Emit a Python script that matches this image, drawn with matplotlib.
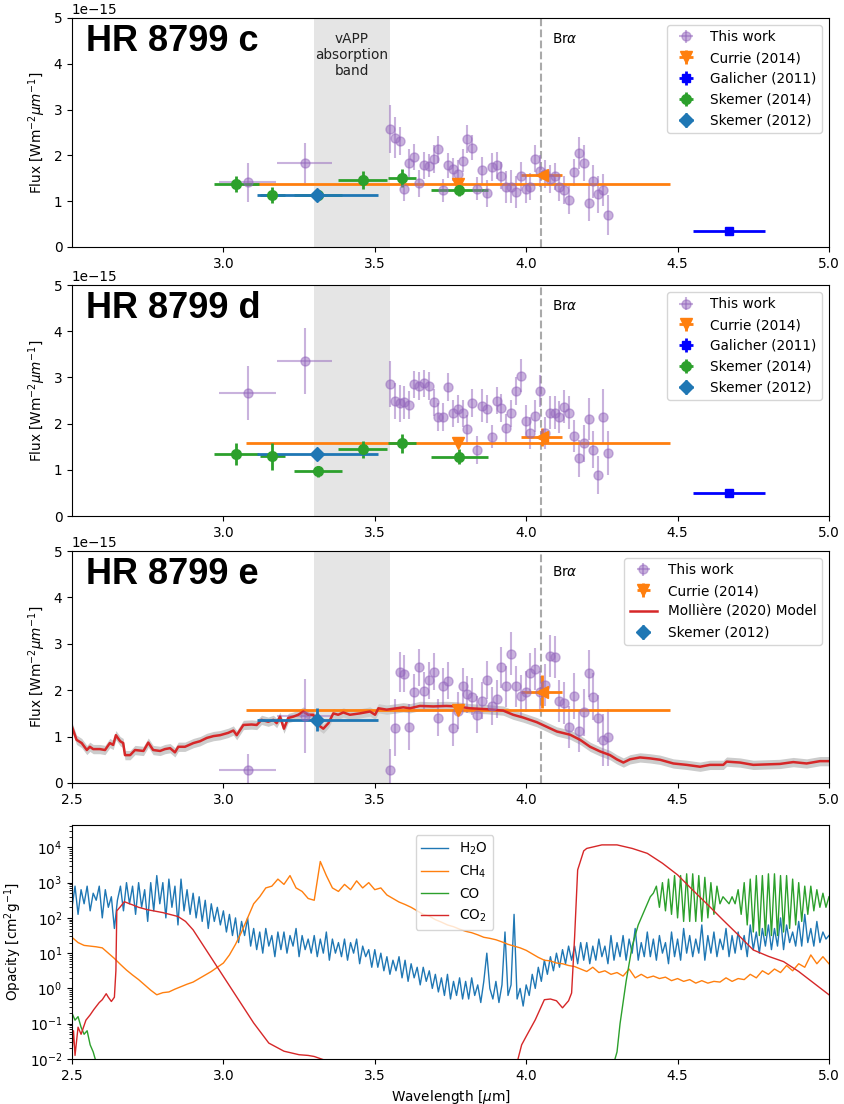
import numpy as np
import matplotlib
matplotlib.use("Agg")
import matplotlib.pyplot as plt

plt.rcParams['font.family'] = ['DejaVu Sans']
plt.rcParams['font.size'] = 9.8

# ---------------- data ----------------
spec_wl = [3.550, 3.566, 3.582, 3.598, 3.614, 3.630, 3.646, 3.662, 3.678, 3.694,
           3.710, 3.726, 3.742, 3.758, 3.774, 3.790, 3.806, 3.822, 3.838, 3.854,
           3.870, 3.886, 3.902, 3.918, 3.934, 3.950, 3.966, 3.982, 3.998, 4.014,
           4.030, 4.046, 4.062, 4.078, 4.094, 4.110, 4.126, 4.142, 4.158, 4.174,
           4.190, 4.206, 4.222, 4.238, 4.254, 4.270]

c_flux = [2.58, 2.39, 2.31, 1.26, 1.83, 1.96, 1.39, 1.78, 1.77, 1.92,
          2.13, 1.24, 1.78, 1.70, 1.59, 1.88, 2.36, 2.17, 1.27, 1.67,
          1.17, 1.75, 1.78, 1.56, 1.30, 1.32, 1.19, 1.54, 1.26, 1.32,
          1.93, 1.66, 1.59, 1.48, 1.54, 1.30, 1.24, 1.03, 1.63, 2.05,
          1.83, 0.97, 1.43, 1.15, 1.24, 0.70]
c_err = [0.53, 0.44, 0.30, 0.25, 0.30, 0.28, 0.30, 0.30, 0.25, 0.30,
         0.30, 0.25, 0.28, 0.25, 0.30, 0.25, 0.30, 0.28, 0.25, 0.30,
         0.30, 0.30, 0.30, 0.30, 0.35, 0.35, 0.35, 0.32, 0.30, 0.30,
         0.30, 0.35, 0.30, 0.30, 0.30, 0.30, 0.30, 0.30, 0.30, 0.35,
         0.40, 0.40, 0.35, 0.40, 0.35, 0.43]

d_flux = [2.85, 2.49, 2.44, 2.46, 2.40, 2.85, 2.82, 2.87, 2.82, 2.46,
          2.15, 2.15, 2.79, 2.22, 2.32, 2.22, 1.88, 2.44, 1.43, 2.39,
          2.31, 1.72, 2.50, 2.34, 1.90, 2.22, 2.71, 3.04, 2.06, 1.80,
          2.17, 2.71, 1.79, 2.24, 2.24, 2.15, 2.37, 2.24, 1.73, 1.25,
          1.57, 2.10, 1.43, 0.89, 2.15, 1.36]
d_err = [0.50, 0.40, 0.40, 0.35, 0.30, 0.30, 0.30, 0.30, 0.30, 0.30,
         0.30, 0.30, 0.30, 0.30, 0.30, 0.30, 0.30, 0.30, 0.30, 0.35,
         0.30, 0.25, 0.30, 0.30, 0.30, 0.30, 0.30, 0.35, 0.35, 0.35,
         0.35, 0.35, 0.35, 0.35, 0.35, 0.35, 0.35, 0.35, 0.35, 0.40,
         0.40, 0.45, 0.40, 0.41, 0.60, 0.47]

e_flux = [0.28, 1.19, 2.39, 2.35, 1.21, 1.95, 2.49, 1.99, 2.21, 2.40,
          1.41, 2.08, 2.20, 1.19, 1.56, 2.08, 1.91, 1.86, 1.47, 1.77,
          2.22, 1.66, 1.81, 2.49, 2.08, 2.79, 2.08, 1.88, 1.97, 2.36,
          2.46, 1.97, 2.11, 2.74, 2.72, 1.77, 1.72, 1.21, 1.88, 1.12,
          1.52, 2.36, 1.86, 1.39, 0.93, 0.98]
e_err = [0.45, 0.61, 0.43, 0.40, 0.50, 0.40, 0.40, 0.40, 0.40, 0.40,
         0.40, 0.40, 0.40, 0.40, 0.40, 0.40, 0.40, 0.40, 0.40, 0.40,
         0.40, 0.40, 0.40, 0.45, 0.45, 0.46, 0.45, 0.45, 0.45, 0.45,
         0.45, 0.45, 0.45, 0.45, 0.45, 0.45, 0.45, 0.45, 0.50, 0.45,
         0.50, 0.50, 0.50, 0.50, 0.56, 0.61]

# photometric "This work" points
phot_wl = [3.081, 3.268]
phot_xerr = [0.094, 0.091]
c_phot = [1.41, 1.83]
c_phot_err = [0.42, 0.44]
d_phot = [2.66, 3.35]
d_phot_err = [0.59, 0.71]
e_phot = [0.28, 1.45]
e_phot_err = [0.35, 0.80]

# Currie (2014)
currie_wl = [3.776, 4.051]
currie_xerr = [0.70, 0.067]
c_currie = [1.37, 1.57]
c_currie_err = [0.0, 0.08]
d_currie = [1.57, 1.71]
d_currie_err = [0.0, 0.20]
e_currie = [1.58, 1.97]
e_currie_err = [0.0, 0.35]

# Galicher (2011)
galicher_wl = [4.67]
galicher_xerr = [0.12]
c_galicher = [0.35]
d_galicher = [0.49]
galicher_err = [0.04]

# Skemer (2014)
sk14_wl = [3.043, 3.162, 3.312, 3.460, 3.590, 3.779]
sk14_xerr = [0.075, 0.042, 0.080, 0.080, 0.045, 0.094]
c_sk14 = [1.37, 1.14, 1.13, 1.46, 1.51, 1.245]
c_sk14_err = [0.17, 0.18, 0.10, 0.19, 0.20, 0.14]
d_sk14 = [1.35, 1.29, 0.97, 1.44, 1.57, 1.28]
d_sk14_err = [0.24, 0.29, 0.12, 0.18, 0.20, 0.16]

# Skemer (2012)
sk12_wl = [3.310]
sk12_xerr = [0.20]
c_sk12 = [1.135]
d_sk12 = [1.35]
e_sk12 = [1.36]
sk12_err = [0.04]
e_sk12_err = [0.25]

# Molliere (2020) model for HR 8799 e
model_wl = [2.500, 2.515, 2.532, 2.549, 2.559, 2.570, 2.592, 2.609, 2.625, 2.636,
            2.645, 2.659, 2.669, 2.675, 2.692, 2.708, 2.736, 2.752, 2.768, 2.791,
            2.807, 2.824, 2.840, 2.851, 2.873, 2.901, 2.923, 2.945, 2.967, 2.989,
            3.016, 3.033, 3.044, 3.066, 3.093, 3.110, 3.126, 3.148, 3.165, 3.176,
            3.187, 3.200, 3.214, 3.231, 3.247, 3.264, 3.280, 3.297, 3.313, 3.330,
            3.347, 3.363, 3.379, 3.396, 3.418, 3.451, 3.484, 3.501, 3.512, 3.539,
            3.561, 3.594, 3.616, 3.649, 3.693, 3.737, 3.771, 3.814, 3.870, 3.924,
            3.957, 3.990, 4.035, 4.068, 4.101, 4.145, 4.178, 4.211, 4.244, 4.277,
            4.299, 4.321, 4.343, 4.376, 4.409, 4.442, 4.486, 4.530, 4.574, 4.607,
            4.651, 4.662, 4.706, 4.750, 4.794, 4.838, 4.882, 4.926, 4.970, 5.000]
model_flux = [1.21, 0.93, 0.86, 0.71, 0.78, 0.73, 0.73, 0.71, 0.86, 0.82,
              1.03, 0.90, 0.86, 0.60, 0.60, 0.71, 0.69, 0.87, 0.71, 0.69,
              0.73, 0.75, 0.66, 0.78, 0.78, 0.86, 0.90, 0.97, 1.01, 1.03,
              1.08, 1.13, 1.03, 1.25, 1.26, 1.25, 1.36, 1.32, 1.36, 1.29,
              1.43, 1.17, 1.40, 1.43, 1.47, 1.54, 1.47, 1.47, 1.25, 1.17,
              1.29, 1.50, 1.47, 1.52, 1.47, 1.50, 1.54, 1.47, 1.61, 1.58,
              1.60, 1.63, 1.61, 1.66, 1.65, 1.66, 1.65, 1.61, 1.59, 1.56,
              1.47, 1.41, 1.31, 1.21, 1.11, 1.04, 0.93, 0.78, 0.68, 0.60,
              0.51, 0.44, 0.51, 0.55, 0.53, 0.50, 0.42, 0.39, 0.35, 0.39,
              0.39, 0.46, 0.44, 0.39, 0.40, 0.41, 0.45, 0.42, 0.47, 0.47]
model_unc = 0.10

# ---- opacities (log10 cm^2/g) ----
h2o_log = [2.3, 2.9, 2.1, 2.8, 2.4, 2.9, 2.2, 2.7, 2.5, 2.9,
           2.0, 2.8, 2.3, 2.6, 1.7, 2.5, 2.9, 2.2, 3.0, 2.4,
           2.9, 2.1, 3.0, 2.3, 2.8, 1.9, 3.0, 2.2, 3.2, 2.4,
           3.0, 2.0, 3.1, 2.3, 2.9, 1.8, 3.1, 2.2, 2.8, 2.1,
           2.7, 2.0, 2.6, 1.9, 2.5, 1.7, 2.4, 1.9, 2.3, 1.8,
           2.2, 1.6, 2.1, 1.5, 2.0, 1.3, 1.9, 1.5, 2.0, 1.2,
           1.7, 1.1, 1.6, 1.0, 1.7, 1.2, 1.5, 0.9, 1.6, 1.1,
           1.6, 1.0, 1.5, 1.2, 1.7, 0.9, 1.5, 1.1, 1.4, 1.0,
           1.5, 0.9, 1.4, 1.0, 1.6, 0.8, 1.4, 1.0, 1.3, 0.9,
           1.4, 0.8, 1.3, 1.0, 1.4, 0.7, 1.2, 0.9, 1.1, 0.6,
           1.1, 0.6, 1.0, 0.5, 0.9, 0.4, 0.8, 0.5, 0.9, 0.3,
           0.8, 0.2, 0.7, 0.3, 0.6, 0.1, 0.6, 0.2, 0.5, 0.0,
           0.4, -0.1, 0.3, -0.2, 0.4, -0.3, 0.2, -0.2, 0.3, -0.3,
           0.2, -0.3, 0.3, -0.2, 0.1, -0.4, 0.2, 1.0, 0.0, -0.3,
           0.2, -0.4, 0.1, 1.6, -0.2, 0.1, 2.1, -0.3, 0.0, -0.5,
           0.1, -0.2, 0.4, 0.0, 0.6, 0.2, 0.8, 0.4, 0.9, 0.5,
           1.0, 0.6, 1.1, 0.7, 1.2, 0.8, 1.2, 0.7, 1.3, 0.8,
           1.3, 0.7, 1.2, 0.8, 1.4, 0.9, 1.2, 0.7, 1.5, 0.8,
           1.3, 0.9, 1.5, 0.8, 1.4, 1.0, 1.7, 0.8, 1.3, 0.9,
           1.6, 0.9, 1.4, 0.8, 1.5, 1.0, 1.3, 0.7, 1.6, 0.9,
           1.4, 0.8, 1.7, 1.0, 1.5, 0.9, 1.4, 1.0, 1.8, 0.8,
           1.5, 1.0, 1.6, 0.9, 1.4, 1.1, 1.7, 0.9, 1.5, 1.0,
           1.6, 1.1, 1.5, 0.9, 1.8, 1.1, 1.6, 1.0, 1.7, 1.2,
           1.8, 1.1, 1.7, 1.2, 2.0, 1.1, 1.8, 1.3, 1.6, 1.2,
           1.9, 1.2, 2.1, 1.3, 1.7, 1.2, 1.9, 1.3, 1.6, 1.4,
           1.5]
h2o_wl = np.linspace(2.50, 5.00, len(h2o_log))

ch4_log = [1.45, 1.30, 1.22, 1.20, 1.18, 1.15, 1.00, 0.85, 0.68, 0.52,
           0.38, 0.25, 0.10, -0.05, -0.18, -0.12, -0.10, -0.02, 0.05, 0.12,
           0.18, 0.28, 0.38, 0.48, 0.60, 0.72, 0.95, 1.25, 1.60, 2.00,
           2.40, 2.60, 2.85, 2.90, 3.10, 2.95, 3.20, 2.85, 2.75, 2.55,
           2.50, 3.60, 3.20, 2.85, 2.75, 2.95, 2.80, 3.05, 2.85, 3.00,
           2.80, 2.85, 2.65, 2.55, 2.45, 2.38, 2.30, 2.20, 2.10, 2.05,
           1.95, 1.88, 1.80, 1.75, 1.68, 1.62, 1.58, 1.52, 1.45, 1.42,
           1.38, 1.32, 1.25, 1.20, 1.15, 1.08, 0.98, 0.88, 0.80, 0.78,
           0.72, 0.70, 0.65, 0.62, 0.55, 0.48, 0.60, 0.45, 0.50, 0.40,
           0.45, 0.35, 0.55, 0.30, 0.40, 0.30, 0.35, 0.28, 0.32, 0.22,
           0.28, 0.20, 0.25, 0.15, 0.22, 0.15, 0.20, 0.18, 0.30, 0.20,
           0.28, 0.25, 0.40, 0.30, 0.50, 0.40, 0.55, 0.45, 0.65, 0.50,
           0.70, 0.60, 0.95, 0.70, 0.90, 0.70]
ch4_wl = np.linspace(2.50, 5.00, len(ch4_log))

co_wl_a = [2.50, 2.51, 2.52, 2.53, 2.54, 2.55, 2.56, 2.57, 2.58]
co_log_a = [-0.7, -0.9, -0.8, -1.1, -1.3, -1.2, -1.6, -1.8, -2.1]
co_log_b = [-2.1, -1.8, -1.0, -0.4, 0.2, 0.7, 1.2, 1.5, 1.8, 2.0,
            2.2, 2.4, 2.6, 2.7, 2.9, 2.3, 3.0, 2.2, 3.1, 2.1,
            3.2, 2.0, 3.2, 1.9, 3.25, 1.9, 3.25, 1.9, 3.2, 1.9,
            3.15, 2.0, 3.0, 2.1, 2.9, 2.4, 2.6, 2.5, 2.4, 2.6,
            2.4, 2.8, 2.1, 3.0, 1.8, 3.1, 1.6, 3.2, 1.5, 3.2,
            1.5, 3.25, 1.5, 3.25, 1.5, 3.2, 1.6, 3.2, 1.7, 3.1,
            1.8, 3.0, 1.9, 2.9, 2.1, 2.9, 2.2, 2.8, 2.3, 2.7,
            2.3, 2.6]
co_wl_b = np.linspace(4.29, 5.00, len(co_log_b))

co2_wl = [2.500, 2.505, 2.510, 2.520, 2.530, 2.546, 2.560, 2.572, 2.590, 2.600,
          2.613, 2.620, 2.630, 2.640, 2.645, 2.648, 2.660, 2.673, 2.690, 2.700,
          2.720, 2.750, 2.800, 2.850, 2.875, 2.900, 2.950, 3.000, 3.050, 3.100,
          3.150, 3.200, 3.250, 3.280, 3.300, 3.330, 3.360, 3.400, 3.950, 3.970,
          3.985, 4.000, 4.030, 4.060, 4.080, 4.100, 4.120, 4.140, 4.150, 4.160,
          4.170, 4.190, 4.200, 4.250, 4.300, 4.350, 4.400, 4.450, 4.500, 4.550,
          4.600, 4.650, 4.700, 4.750, 4.800, 4.850, 4.900, 4.950, 5.000]
co2_log = [-1.8, -1.2, -1.9, -1.1, -1.3, -0.9, -0.75, -0.6, -0.4, -0.32,
           -0.15, -0.25, -0.37, -0.25, 0.5, 2.2, 2.32, 2.46, 2.40, 2.37,
           2.30, 2.23, 2.15, 2.04, 1.90, 1.66, 1.00, 0.34, -0.32, -0.98,
           -1.55, -1.78, -1.88, -1.90, -1.93, -2.02, -2.2, -2.5, -2.5, -2.1,
           -1.6, -1.36, -0.89, -0.32, -0.30, -0.35, -0.55, -0.35, -0.13, 1.47,
           3.36, 3.90, 3.97, 4.07, 4.07, 3.97, 3.83, 3.55, 3.22, 2.79,
           2.37, 1.94, 1.52, 1.09, 0.91, 0.76, 0.48, 0.15, -0.18]

xticks_top = [3.0, 3.5, 4.0, 4.5, 5.0]
xticks_all = [2.5, 3.0, 3.5, 4.0, 4.5, 5.0]

# ---------------- figure ----------------
fig = plt.figure(figsize=(8.44, 11.04), dpi=100)
L, W = 0.0853, 0.8969
ax1 = fig.add_axes([L, 0.7763, W, 0.2074])
ax2 = fig.add_axes([L, 0.5326, W, 0.2092])
ax3 = fig.add_axes([L, 0.2908, W, 0.2101])
ax4 = fig.add_axes([L, 0.0408, W, 0.2119])

S = 1e-15
PURPLE = 'tab:purple'


def this_work(ax, flux, err, pflux, perr):
    wl = list(phot_wl) + list(spec_wl)
    fl = np.array(list(pflux) + list(flux)) * S
    ye = np.array(list(perr) + list(err)) * S
    xe = list(phot_xerr) + [0.0] * len(spec_wl)
    ax.errorbar(wl, fl, yerr=ye, xerr=xe, fmt='o', color=PURPLE, alpha=0.5,
                ms=6.5, elinewidth=1.5, label='This work')


def currie(ax, fl, err):
    ax.errorbar(currie_wl[:1], np.array(fl[:1]) * S, xerr=currie_xerr[:1],
                yerr=np.array(err[:1]) * S, fmt='v', color='tab:orange',
                ms=8, elinewidth=2, label='Currie (2014)')
    ax.errorbar(currie_wl[1:], np.array(fl[1:]) * S, xerr=currie_xerr[1:],
                yerr=np.array(err[1:]) * S, fmt='<', color='tab:orange',
                ms=8, elinewidth=2)


def decorate(ax, title, order=None):
    ax.set_xlim(2.5, 5.0)
    ax.set_ylim(0, 5e-15)
    ax.axvspan(3.3, 3.55, color='#e5e5e5', zorder=0, lw=0)
    ax.axvline(4.05, color='#aaaaaa', ls='--', lw=1.5, zorder=0.5)
    ax.text(4.085, 4.55e-15, r'Br$\alpha$', va='center', ha='left', fontsize=9.8)
    ax.text(0.018, 0.975, title, transform=ax.transAxes, va='top', ha='left',
            fontsize=26, fontweight='bold', family=['Liberation Sans'])
    ax.set_ylabel(r'Flux [Wm$^{-2} \mu m^{-1}$]', fontsize=9.8)
    handles, labels = ax.get_legend_handles_labels()
    if order is not None:
        idx = [labels.index(o) for o in order]
        handles = [handles[i] for i in idx]
        labels = [labels[i] for i in idx]
    ax.legend(handles, labels, loc='upper right', fontsize=9.8)


# ---- panel c ----
this_work(ax1, c_flux, c_err, c_phot, c_phot_err)
currie(ax1, c_currie, c_currie_err)
ax1.errorbar(galicher_wl, np.array(c_galicher) * S, xerr=galicher_xerr,
             yerr=np.array(galicher_err) * S, fmt='s', color='blue', ms=6,
             elinewidth=2, label='Galicher (2011)')
ax1.errorbar(sk14_wl, np.array(c_sk14) * S, xerr=sk14_xerr,
             yerr=np.array(c_sk14_err) * S, fmt='o', color='tab:green', ms=7,
             elinewidth=2, label='Skemer (2014)')
ax1.errorbar(sk12_wl, np.array(c_sk12) * S, xerr=sk12_xerr,
             yerr=np.array(sk12_err) * S, fmt='D', color='tab:blue', ms=7,
             elinewidth=2, label='Skemer (2012)')
decorate(ax1, 'HR 8799 c')
ax1.text(3.425, 4.7e-15, 'vAPP\nabsorption\nband', ha='center', va='top',
         fontsize=9.8, color='#222222')
ax1.set_xticks(xticks_top)

# ---- panel d ----
this_work(ax2, d_flux, d_err, d_phot, d_phot_err)
currie(ax2, d_currie, d_currie_err)
ax2.errorbar(galicher_wl, np.array(d_galicher) * S, xerr=galicher_xerr,
             yerr=np.array(galicher_err) * S, fmt='s', color='blue', ms=6,
             elinewidth=2, label='Galicher (2011)')
ax2.errorbar(sk14_wl, np.array(d_sk14) * S, xerr=sk14_xerr,
             yerr=np.array(d_sk14_err) * S, fmt='o', color='tab:green', ms=7,
             elinewidth=2, label='Skemer (2014)')
ax2.errorbar(sk12_wl, np.array(d_sk12) * S, xerr=sk12_xerr,
             yerr=np.array(sk12_err) * S, fmt='D', color='tab:blue', ms=7,
             elinewidth=2, label='Skemer (2012)')
decorate(ax2, 'HR 8799 d')
ax2.set_xticks(xticks_top)

# ---- panel e ----
this_work(ax3, e_flux, e_err, e_phot, e_phot_err)
currie(ax3, e_currie, e_currie_err)
mf = np.array(model_flux)
ax3.fill_between(model_wl, (mf - model_unc) * S, (mf + model_unc) * S,
                 color='#cccccc', lw=0, zorder=1)
ax3.plot(model_wl, mf * S, color='tab:red', lw=1.8, zorder=2,
         label='Mollière (2020) Model')
ax3.errorbar(sk12_wl, np.array(e_sk12) * S, xerr=sk12_xerr,
             yerr=np.array(e_sk12_err) * S, fmt='D', color='tab:blue', ms=7,
             elinewidth=2, label='Skemer (2012)')
decorate(ax3, 'HR 8799 e',
         order=['This work', 'Currie (2014)', 'Mollière (2020) Model', 'Skemer (2012)'])
ax3.set_xticks(xticks_all)

# ---- opacity panel ----
ax4.plot(h2o_wl, 10 ** np.array(h2o_log), color='tab:blue', lw=1, label='H$_2$O')
ax4.plot(ch4_wl, 10 ** np.array(ch4_log), color='tab:orange', lw=1, label='CH$_4$')
co_wl = list(co_wl_a) + [np.nan] + list(co_wl_b)
co_log = list(co_log_a) + [np.nan] + list(co_log_b)
ax4.plot(co_wl, 10 ** np.array(co_log), color='tab:green', lw=1, label='CO')
ax4.plot(co2_wl, 10 ** np.array(co2_log), color='tab:red', lw=1, label='CO$_2$')
ax4.set_yscale('log')
ax4.set_xlim(2.5, 5.0)
ax4.set_ylim(1e-2, 4.3e4)
ax4.set_xticks(xticks_all)
ax4.set_xlabel(r'Wavelength [$\mu$m]', fontsize=9.8)
ax4.set_ylabel(r'Opacity [cm$^2$g$^{-1}$]', fontsize=9.8)
ax4.legend(loc='upper left', bbox_to_anchor=(0.445, 0.985), fontsize=9.8)

fig.savefig('out.png', dpi=100)
